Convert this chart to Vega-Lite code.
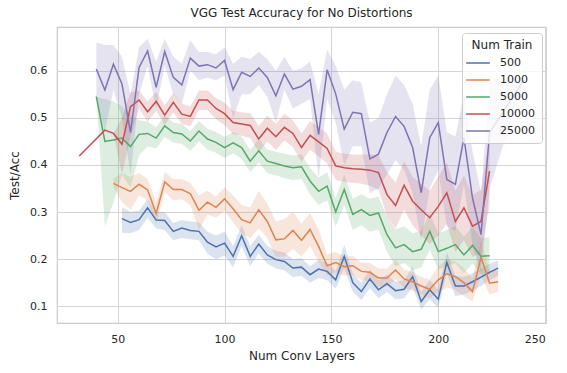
{
  "$schema": "https://vega.github.io/schema/vega-lite/v6.json",
  "width": 489,
  "height": 296,
  "autosize": {"type": "none"},
  "padding": {"left": 57, "top": 27, "right": 21, "bottom": 50},
  "background": "white",
  "title": {"text": "VGG Test Accuracy for No Distortions", "fontSize": 12, "fontWeight": "normal", "font": "DejaVu Sans", "color": "#262626", "offset": 7, "anchor": "middle"},
  "config": {
    "view": {"stroke": "#cccccc", "strokeWidth": 1.2},
    "axis": {"grid": true, "gridColor": "#d5d5d5", "gridWidth": 1, "domain": false, "ticks": false, "labelFont": "DejaVu Sans", "labelFontSize": 11, "labelColor": "#262626", "titleFont": "DejaVu Sans", "titleFontSize": 12, "titleFontWeight": "normal", "titleColor": "#262626"},
    "legend": {"orient": "none", "legendX": 405, "legendY": 6,
      "symbolType": "M-1.5,0H1.5", "symbolSize": 250, "symbolStrokeWidth": 1.5, "symbolOpacity": 1, "symbolFillColor": "transparent",
      "fillColor": "rgba(255,255,255,0.8)", "strokeColor": "#cccccc", "cornerRadius": 3, "padding": 7,
      "titleFont": "DejaVu Sans", "titleFontSize": 12, "titleFontWeight": "normal", "titleColor": "#262626", "titleAnchor": "middle", "titlePadding": 2,
      "labelFont": "DejaVu Sans", "labelFontSize": 11, "labelColor": "#262626", "rowPadding": 3, "labelOffset": 13}
  },
  "datasets": {
    "d": [
      {"n":"500","x":52,"y":0.286,"lo":0.256,"hi":0.310},
      {"n":"500","x":56,"y":0.278,"lo":0.255,"hi":0.300},
      {"n":"500","x":60,"y":0.284,"lo":0.262,"hi":0.303},
      {"n":"500","x":64,"y":0.309,"lo":0.288,"hi":0.328},
      {"n":"500","x":68,"y":0.283,"lo":0.265,"hi":0.300},
      {"n":"500","x":72,"y":0.282,"lo":0.262,"hi":0.300},
      {"n":"500","x":76,"y":0.259,"lo":0.240,"hi":0.277},
      {"n":"500","x":80,"y":0.266,"lo":0.245,"hi":0.283},
      {"n":"500","x":84,"y":0.261,"lo":0.242,"hi":0.280},
      {"n":"500","x":88,"y":0.259,"lo":0.240,"hi":0.278},
      {"n":"500","x":92,"y":0.236,"lo":0.212,"hi":0.258},
      {"n":"500","x":96,"y":0.226,"lo":0.200,"hi":0.250},
      {"n":"500","x":100,"y":0.234,"lo":0.208,"hi":0.258},
      {"n":"500","x":104,"y":0.206,"lo":0.183,"hi":0.228},
      {"n":"500","x":108,"y":0.250,"lo":0.228,"hi":0.272},
      {"n":"500","x":112,"y":0.206,"lo":0.185,"hi":0.228},
      {"n":"500","x":116,"y":0.232,"lo":0.212,"hi":0.252},
      {"n":"500","x":120,"y":0.209,"lo":0.190,"hi":0.228},
      {"n":"500","x":124,"y":0.199,"lo":0.180,"hi":0.218},
      {"n":"500","x":128,"y":0.195,"lo":0.176,"hi":0.214},
      {"n":"500","x":132,"y":0.181,"lo":0.162,"hi":0.200},
      {"n":"500","x":136,"y":0.183,"lo":0.165,"hi":0.202},
      {"n":"500","x":140,"y":0.167,"lo":0.150,"hi":0.185},
      {"n":"500","x":144,"y":0.179,"lo":0.160,"hi":0.198},
      {"n":"500","x":148,"y":0.174,"lo":0.155,"hi":0.192},
      {"n":"500","x":152,"y":0.156,"lo":0.137,"hi":0.175},
      {"n":"500","x":156,"y":0.206,"lo":0.180,"hi":0.230},
      {"n":"500","x":160,"y":0.150,"lo":0.130,"hi":0.170},
      {"n":"500","x":164,"y":0.131,"lo":0.113,"hi":0.150},
      {"n":"500","x":168,"y":0.158,"lo":0.138,"hi":0.178},
      {"n":"500","x":172,"y":0.135,"lo":0.117,"hi":0.155},
      {"n":"500","x":176,"y":0.148,"lo":0.130,"hi":0.167},
      {"n":"500","x":180,"y":0.133,"lo":0.115,"hi":0.152},
      {"n":"500","x":184,"y":0.136,"lo":0.117,"hi":0.155},
      {"n":"500","x":188,"y":0.163,"lo":0.140,"hi":0.185},
      {"n":"500","x":192,"y":0.110,"lo":0.093,"hi":0.130},
      {"n":"500","x":196,"y":0.135,"lo":0.115,"hi":0.155},
      {"n":"500","x":200,"y":0.115,"lo":0.097,"hi":0.135},
      {"n":"500","x":204,"y":0.193,"lo":0.170,"hi":0.215},
      {"n":"500","x":208,"y":0.143,"lo":0.122,"hi":0.165},
      {"n":"500","x":212,"y":0.143,"lo":0.125,"hi":0.162},
      {"n":"500","x":216,"y":0.152,"lo":0.133,"hi":0.170},
      {"n":"500","x":220,"y":0.162,"lo":0.143,"hi":0.180},
      {"n":"500","x":224,"y":0.172,"lo":0.155,"hi":0.190},
      {"n":"500","x":228,"y":0.181,"lo":0.165,"hi":0.197},
      {"n":"1000","x":48,"y":0.361,"lo":0.352,"hi":0.372},
      {"n":"1000","x":52,"y":0.352,"lo":0.322,"hi":0.382},
      {"n":"1000","x":56,"y":0.344,"lo":0.305,"hi":0.375},
      {"n":"1000","x":60,"y":0.359,"lo":0.335,"hi":0.383},
      {"n":"1000","x":64,"y":0.347,"lo":0.325,"hi":0.370},
      {"n":"1000","x":68,"y":0.297,"lo":0.275,"hi":0.320},
      {"n":"1000","x":72,"y":0.364,"lo":0.342,"hi":0.385},
      {"n":"1000","x":76,"y":0.348,"lo":0.325,"hi":0.370},
      {"n":"1000","x":80,"y":0.348,"lo":0.327,"hi":0.370},
      {"n":"1000","x":84,"y":0.339,"lo":0.315,"hi":0.362},
      {"n":"1000","x":88,"y":0.304,"lo":0.262,"hi":0.335},
      {"n":"1000","x":92,"y":0.321,"lo":0.295,"hi":0.345},
      {"n":"1000","x":96,"y":0.310,"lo":0.288,"hi":0.333},
      {"n":"1000","x":100,"y":0.328,"lo":0.303,"hi":0.352},
      {"n":"1000","x":104,"y":0.307,"lo":0.278,"hi":0.335},
      {"n":"1000","x":108,"y":0.284,"lo":0.255,"hi":0.315},
      {"n":"1000","x":112,"y":0.277,"lo":0.245,"hi":0.310},
      {"n":"1000","x":116,"y":0.305,"lo":0.265,"hi":0.345},
      {"n":"1000","x":120,"y":0.280,"lo":0.245,"hi":0.318},
      {"n":"1000","x":124,"y":0.241,"lo":0.205,"hi":0.280},
      {"n":"1000","x":128,"y":0.243,"lo":0.205,"hi":0.285},
      {"n":"1000","x":132,"y":0.261,"lo":0.222,"hi":0.300},
      {"n":"1000","x":136,"y":0.240,"lo":0.205,"hi":0.275},
      {"n":"1000","x":140,"y":0.263,"lo":0.228,"hi":0.298},
      {"n":"1000","x":144,"y":0.227,"lo":0.195,"hi":0.262},
      {"n":"1000","x":148,"y":0.186,"lo":0.165,"hi":0.210},
      {"n":"1000","x":152,"y":0.193,"lo":0.172,"hi":0.215},
      {"n":"1000","x":156,"y":0.184,"lo":0.165,"hi":0.205},
      {"n":"1000","x":160,"y":0.186,"lo":0.168,"hi":0.207},
      {"n":"1000","x":164,"y":0.174,"lo":0.155,"hi":0.193},
      {"n":"1000","x":168,"y":0.172,"lo":0.153,"hi":0.192},
      {"n":"1000","x":172,"y":0.160,"lo":0.142,"hi":0.180},
      {"n":"1000","x":176,"y":0.160,"lo":0.142,"hi":0.180},
      {"n":"1000","x":180,"y":0.177,"lo":0.157,"hi":0.198},
      {"n":"1000","x":184,"y":0.158,"lo":0.140,"hi":0.178},
      {"n":"1000","x":188,"y":0.152,"lo":0.133,"hi":0.172},
      {"n":"1000","x":192,"y":0.143,"lo":0.125,"hi":0.162},
      {"n":"1000","x":196,"y":0.136,"lo":0.117,"hi":0.157},
      {"n":"1000","x":200,"y":0.156,"lo":0.130,"hi":0.185},
      {"n":"1000","x":204,"y":0.169,"lo":0.140,"hi":0.200},
      {"n":"1000","x":208,"y":0.163,"lo":0.135,"hi":0.195},
      {"n":"1000","x":212,"y":0.150,"lo":0.122,"hi":0.180},
      {"n":"1000","x":216,"y":0.131,"lo":0.110,"hi":0.160},
      {"n":"1000","x":220,"y":0.204,"lo":0.165,"hi":0.240},
      {"n":"1000","x":224,"y":0.149,"lo":0.125,"hi":0.175},
      {"n":"1000","x":228,"y":0.152,"lo":0.130,"hi":0.175},
      {"n":"5000","x":40,"y":0.545,"lo":0.545,"hi":0.545},
      {"n":"5000","x":44,"y":0.450,"lo":0.270,"hi":0.540},
      {"n":"5000","x":48,"y":0.453,"lo":0.320,"hi":0.535},
      {"n":"5000","x":52,"y":0.457,"lo":0.380,"hi":0.525},
      {"n":"5000","x":56,"y":0.439,"lo":0.352,"hi":0.505},
      {"n":"5000","x":60,"y":0.465,"lo":0.420,"hi":0.495},
      {"n":"5000","x":64,"y":0.467,"lo":0.440,"hi":0.492},
      {"n":"5000","x":68,"y":0.457,"lo":0.435,"hi":0.480},
      {"n":"5000","x":72,"y":0.483,"lo":0.460,"hi":0.505},
      {"n":"5000","x":76,"y":0.469,"lo":0.447,"hi":0.490},
      {"n":"5000","x":80,"y":0.466,"lo":0.445,"hi":0.487},
      {"n":"5000","x":84,"y":0.451,"lo":0.430,"hi":0.472},
      {"n":"5000","x":88,"y":0.472,"lo":0.450,"hi":0.493},
      {"n":"5000","x":92,"y":0.455,"lo":0.433,"hi":0.477},
      {"n":"5000","x":96,"y":0.448,"lo":0.426,"hi":0.470},
      {"n":"5000","x":100,"y":0.437,"lo":0.415,"hi":0.460},
      {"n":"5000","x":104,"y":0.447,"lo":0.425,"hi":0.470},
      {"n":"5000","x":108,"y":0.437,"lo":0.413,"hi":0.460},
      {"n":"5000","x":112,"y":0.408,"lo":0.385,"hi":0.432},
      {"n":"5000","x":116,"y":0.430,"lo":0.405,"hi":0.455},
      {"n":"5000","x":120,"y":0.408,"lo":0.383,"hi":0.433},
      {"n":"5000","x":124,"y":0.403,"lo":0.378,"hi":0.428},
      {"n":"5000","x":128,"y":0.398,"lo":0.372,"hi":0.424},
      {"n":"5000","x":132,"y":0.394,"lo":0.368,"hi":0.420},
      {"n":"5000","x":136,"y":0.396,"lo":0.370,"hi":0.422},
      {"n":"5000","x":140,"y":0.366,"lo":0.338,"hi":0.394},
      {"n":"5000","x":144,"y":0.344,"lo":0.315,"hi":0.373},
      {"n":"5000","x":148,"y":0.355,"lo":0.325,"hi":0.385},
      {"n":"5000","x":152,"y":0.300,"lo":0.270,"hi":0.330},
      {"n":"5000","x":156,"y":0.348,"lo":0.315,"hi":0.380},
      {"n":"5000","x":160,"y":0.295,"lo":0.262,"hi":0.328},
      {"n":"5000","x":164,"y":0.305,"lo":0.272,"hi":0.338},
      {"n":"5000","x":168,"y":0.293,"lo":0.258,"hi":0.328},
      {"n":"5000","x":172,"y":0.298,"lo":0.263,"hi":0.333},
      {"n":"5000","x":176,"y":0.252,"lo":0.215,"hi":0.290},
      {"n":"5000","x":180,"y":0.224,"lo":0.185,"hi":0.263},
      {"n":"5000","x":184,"y":0.231,"lo":0.192,"hi":0.270},
      {"n":"5000","x":188,"y":0.216,"lo":0.177,"hi":0.255},
      {"n":"5000","x":192,"y":0.221,"lo":0.182,"hi":0.260},
      {"n":"5000","x":196,"y":0.259,"lo":0.220,"hi":0.298},
      {"n":"5000","x":200,"y":0.216,"lo":0.178,"hi":0.255},
      {"n":"5000","x":204,"y":0.223,"lo":0.185,"hi":0.262},
      {"n":"5000","x":208,"y":0.231,"lo":0.192,"hi":0.270},
      {"n":"5000","x":212,"y":0.209,"lo":0.170,"hi":0.248},
      {"n":"5000","x":216,"y":0.229,"lo":0.190,"hi":0.268},
      {"n":"5000","x":220,"y":0.206,"lo":0.168,"hi":0.245},
      {"n":"5000","x":224,"y":0.207,"lo":0.168,"hi":0.246},
      {"n":"10000","x":32,"y":0.419,"lo":0.419,"hi":0.419},
      {"n":"10000","x":44,"y":0.474,"lo":0.474,"hi":0.474},
      {"n":"10000","x":48,"y":0.467,"lo":0.467,"hi":0.467},
      {"n":"10000","x":52,"y":0.444,"lo":0.380,"hi":0.500},
      {"n":"10000","x":56,"y":0.524,"lo":0.460,"hi":0.555},
      {"n":"10000","x":60,"y":0.538,"lo":0.520,"hi":0.558},
      {"n":"10000","x":64,"y":0.513,"lo":0.492,"hi":0.535},
      {"n":"10000","x":68,"y":0.535,"lo":0.515,"hi":0.555},
      {"n":"10000","x":72,"y":0.506,"lo":0.485,"hi":0.527},
      {"n":"10000","x":76,"y":0.533,"lo":0.512,"hi":0.553},
      {"n":"10000","x":80,"y":0.508,"lo":0.487,"hi":0.530},
      {"n":"10000","x":84,"y":0.503,"lo":0.482,"hi":0.524},
      {"n":"10000","x":88,"y":0.538,"lo":0.517,"hi":0.558},
      {"n":"10000","x":92,"y":0.538,"lo":0.517,"hi":0.558},
      {"n":"10000","x":96,"y":0.520,"lo":0.497,"hi":0.542},
      {"n":"10000","x":100,"y":0.509,"lo":0.485,"hi":0.532},
      {"n":"10000","x":104,"y":0.490,"lo":0.465,"hi":0.515},
      {"n":"10000","x":108,"y":0.487,"lo":0.462,"hi":0.512},
      {"n":"10000","x":112,"y":0.484,"lo":0.458,"hi":0.510},
      {"n":"10000","x":116,"y":0.455,"lo":0.427,"hi":0.483},
      {"n":"10000","x":120,"y":0.478,"lo":0.450,"hi":0.505},
      {"n":"10000","x":124,"y":0.460,"lo":0.432,"hi":0.488},
      {"n":"10000","x":128,"y":0.480,"lo":0.452,"hi":0.508},
      {"n":"10000","x":132,"y":0.467,"lo":0.438,"hi":0.495},
      {"n":"10000","x":136,"y":0.437,"lo":0.407,"hi":0.467},
      {"n":"10000","x":140,"y":0.463,"lo":0.433,"hi":0.493},
      {"n":"10000","x":144,"y":0.449,"lo":0.418,"hi":0.480},
      {"n":"10000","x":148,"y":0.435,"lo":0.403,"hi":0.467},
      {"n":"10000","x":152,"y":0.398,"lo":0.368,"hi":0.428},
      {"n":"10000","x":156,"y":0.394,"lo":0.364,"hi":0.424},
      {"n":"10000","x":160,"y":0.392,"lo":0.362,"hi":0.422},
      {"n":"10000","x":164,"y":0.391,"lo":0.360,"hi":0.422},
      {"n":"10000","x":168,"y":0.389,"lo":0.356,"hi":0.422},
      {"n":"10000","x":172,"y":0.384,"lo":0.348,"hi":0.420},
      {"n":"10000","x":176,"y":0.337,"lo":0.290,"hi":0.385},
      {"n":"10000","x":180,"y":0.314,"lo":0.265,"hi":0.363},
      {"n":"10000","x":184,"y":0.357,"lo":0.305,"hi":0.408},
      {"n":"10000","x":188,"y":0.323,"lo":0.272,"hi":0.375},
      {"n":"10000","x":192,"y":0.305,"lo":0.250,"hi":0.360},
      {"n":"10000","x":196,"y":0.288,"lo":0.232,"hi":0.345},
      {"n":"10000","x":200,"y":0.312,"lo":0.250,"hi":0.375},
      {"n":"10000","x":204,"y":0.341,"lo":0.275,"hi":0.405},
      {"n":"10000","x":208,"y":0.280,"lo":0.215,"hi":0.345},
      {"n":"10000","x":212,"y":0.309,"lo":0.240,"hi":0.378},
      {"n":"10000","x":216,"y":0.270,"lo":0.205,"hi":0.335},
      {"n":"10000","x":220,"y":0.280,"lo":0.212,"hi":0.348},
      {"n":"10000","x":224,"y":0.387,"lo":0.315,"hi":0.458},
      {"n":"25000","x":40,"y":0.604,"lo":0.545,"hi":0.660},
      {"n":"25000","x":44,"y":0.559,"lo":0.470,"hi":0.655},
      {"n":"25000","x":48,"y":0.614,"lo":0.560,"hi":0.655},
      {"n":"25000","x":52,"y":0.572,"lo":0.500,"hi":0.630},
      {"n":"25000","x":56,"y":0.469,"lo":0.380,"hi":0.550},
      {"n":"25000","x":60,"y":0.607,"lo":0.550,"hi":0.650},
      {"n":"25000","x":64,"y":0.642,"lo":0.610,"hi":0.668},
      {"n":"25000","x":68,"y":0.565,"lo":0.520,"hi":0.620},
      {"n":"25000","x":72,"y":0.641,"lo":0.610,"hi":0.668},
      {"n":"25000","x":76,"y":0.586,"lo":0.550,"hi":0.630},
      {"n":"25000","x":80,"y":0.570,"lo":0.530,"hi":0.615},
      {"n":"25000","x":84,"y":0.627,"lo":0.600,"hi":0.665},
      {"n":"25000","x":88,"y":0.610,"lo":0.580,"hi":0.640},
      {"n":"25000","x":92,"y":0.613,"lo":0.585,"hi":0.640},
      {"n":"25000","x":96,"y":0.606,"lo":0.580,"hi":0.635},
      {"n":"25000","x":100,"y":0.622,"lo":0.590,"hi":0.650},
      {"n":"25000","x":104,"y":0.560,"lo":0.500,"hi":0.615},
      {"n":"25000","x":108,"y":0.597,"lo":0.550,"hi":0.630},
      {"n":"25000","x":112,"y":0.588,"lo":0.550,"hi":0.625},
      {"n":"25000","x":116,"y":0.606,"lo":0.570,"hi":0.640},
      {"n":"25000","x":120,"y":0.586,"lo":0.545,"hi":0.625},
      {"n":"25000","x":124,"y":0.547,"lo":0.490,"hi":0.600},
      {"n":"25000","x":128,"y":0.593,"lo":0.560,"hi":0.630},
      {"n":"25000","x":132,"y":0.561,"lo":0.520,"hi":0.600},
      {"n":"25000","x":136,"y":0.567,"lo":0.530,"hi":0.605},
      {"n":"25000","x":140,"y":0.581,"lo":0.540,"hi":0.620},
      {"n":"25000","x":144,"y":0.465,"lo":0.370,"hi":0.550},
      {"n":"25000","x":148,"y":0.602,"lo":0.540,"hi":0.645},
      {"n":"25000","x":152,"y":0.551,"lo":0.490,"hi":0.610},
      {"n":"25000","x":156,"y":0.476,"lo":0.400,"hi":0.560},
      {"n":"25000","x":160,"y":0.512,"lo":0.440,"hi":0.580},
      {"n":"25000","x":164,"y":0.509,"lo":0.440,"hi":0.575},
      {"n":"25000","x":168,"y":0.413,"lo":0.340,"hi":0.490},
      {"n":"25000","x":172,"y":0.423,"lo":0.350,"hi":0.500},
      {"n":"25000","x":176,"y":0.469,"lo":0.380,"hi":0.550},
      {"n":"25000","x":180,"y":0.503,"lo":0.410,"hi":0.590},
      {"n":"25000","x":184,"y":0.482,"lo":0.390,"hi":0.570},
      {"n":"25000","x":188,"y":0.437,"lo":0.340,"hi":0.530},
      {"n":"25000","x":192,"y":0.341,"lo":0.240,"hi":0.440},
      {"n":"25000","x":196,"y":0.458,"lo":0.350,"hi":0.560},
      {"n":"25000","x":200,"y":0.490,"lo":0.390,"hi":0.590},
      {"n":"25000","x":204,"y":0.369,"lo":0.270,"hi":0.470},
      {"n":"25000","x":208,"y":0.359,"lo":0.260,"hi":0.460},
      {"n":"25000","x":212,"y":0.458,"lo":0.360,"hi":0.550},
      {"n":"25000","x":216,"y":0.330,"lo":0.230,"hi":0.430},
      {"n":"25000","x":220,"y":0.252,"lo":0.170,"hi":0.340},
      {"n":"25000","x":224,"y":0.469,"lo":0.350,"hi":0.580},
      {"n":"25000","x":240,"y":0.580,"lo":0.580,"hi":0.580}
    ]
  },
  "data": {"name": "d"},
  "layer": [
    {
      "mark": {"type": "area", "opacity": 0.2, "interpolate": "linear"},
      "encoding": {
        "x": {"field": "x", "type": "quantitative"},
        "y": {"field": "lo", "type": "quantitative"},
        "y2": {"field": "hi"},
        "color": {"field": "n", "type": "nominal",
          "scale": {"domain": ["500","1000","5000","10000","25000"], "range": ["#4c72b0","#dd8452","#55a868","#c44e52","#8172b3"]},
          "legend": {"title": "Num Train"}}
      }
    },
    {
      "mark": {"type": "line", "strokeWidth": 1.5},
      "encoding": {
        "x": {"field": "x", "type": "quantitative", "title": "Num Conv Layers",
          "scale": {"domain": [21.6, 250.4], "nice": false, "zero": false},
          "axis": {"values": [50, 100, 150, 200, 250], "labelPadding": 10, "titlePadding": 6}},
        "y": {"field": "y", "type": "quantitative", "title": "Test/Acc",
          "scale": {"domain": [0.0644, 0.693], "nice": false, "zero": false},
          "axis": {"values": [0.1, 0.2, 0.3, 0.4, 0.5, 0.6], "format": ".1f", "labelPadding": 10, "titlePadding": 8}},
        "color": {"field": "n", "type": "nominal",
          "scale": {"domain": ["500","1000","5000","10000","25000"], "range": ["#4c72b0","#dd8452","#55a868","#c44e52","#8172b3"]},
          "legend": {"title": "Num Train"}}
      }
    }
  ]
}
